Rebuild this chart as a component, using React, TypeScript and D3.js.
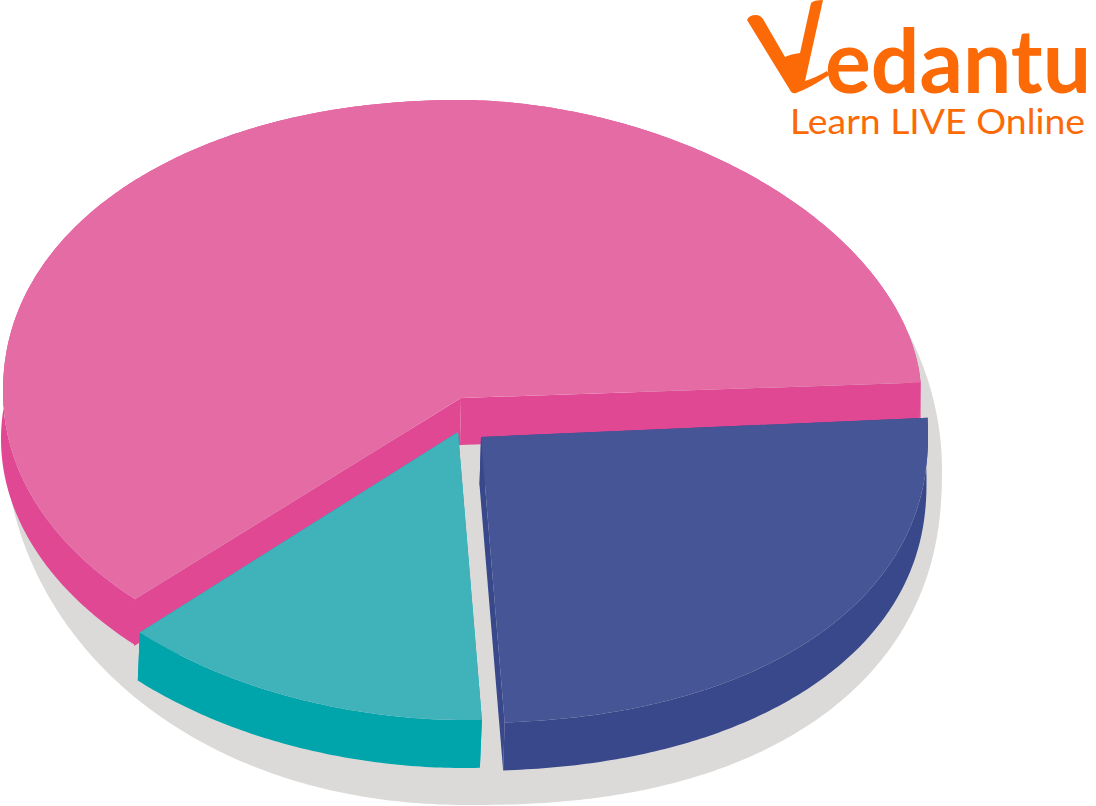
import React from "react";
import * as d3 from "d3";

// Data
const sliceNames = ["Blue", "Teal", "Pink"];
const sliceShares = [24.6, 13.6, 61.8];
const logoWord = "edantu";
const logoTagline = "Learn LIVE Online";

// Styling and layout
const W = 1096;
const H = 806;
const deg = Math.PI / 180;
const START_ANGLE = 87.6 * deg;
const ORANGE = "#fb6a07";
const SHADOW = "#dbdad9";

type Q = { cx: number; cy: number; rx: number; ry: number; p: number };
// Hand-drawn outline: one superellipse per quadrant, in the order UR, LR, LL, UL.
const q = (cx: number, cy: number, rx: number, ry: number, p: number): Q => ({ cx, cy, rx, ry, p });

const looks: Record<string, any> = {
  Pink: {
    top: "#e56ba5",
    wall: "#e04894",
    apex: [461, 398],
    rim: [q(462, 392, 459, 292, 1.85), q(462, 392, 459, 292, 2), q(462, 392, 459, 292, 2.03), q(462, 392, 459, 292, 2.1)],
    wallRim: [q(461, 439, 460, 292, 2), q(461, 439, 460, 292, 2), q(461, 439, 460, 292, 2), q(461, 439, 460, 292, 2)],
    depth: 47,
    dx: -1,
    trim: 0,
  },
  Blue: {
    top: "#465596",
    wall: "#39488b",
    apex: [481, 437],
    rim: [q(465, 434, 463, 289, 2.2), q(465, 434, 463, 289, 2.2), q(465, 434, 463, 289, 2.2), q(465, 434, 463, 289, 2.2)],
    depth: 48,
    dx: -1.5,
    trim: 0,
  },
  Teal: {
    top: "#40b2ba",
    wall: "#00a5ac",
    apex: [458, 432],
    rim: [q(465, 429, 463, 291, 2), q(465, 429, 463, 291, 2), q(465, 429, 463, 291, 1.95), q(465, 429, 463, 291, 1.95)],
    depth: 48,
    dx: -2,
    trim: 1.75 * deg,
  },
};

const shadowRim: Q[] = [q(470, 470, 472, 370, 2), q(470, 470, 472, 335, 2.3), q(470, 420, 467, 385, 2.1), q(470, 420, 467, 300, 2)];
const SHADOW_FROM = 68 * deg;
const SHADOW_TO = 270 * deg;

function rimPoint(quads: Q[], a: number): [number, number] {
  const t = ((a % (2 * Math.PI)) + 2 * Math.PI) % (2 * Math.PI);
  const i = Math.min(3, Math.floor(t / (Math.PI / 2)));
  const { cx, cy, rx, ry, p } = quads[i];
  const s = Math.sin(t);
  const c = Math.cos(t);
  return [cx + rx * Math.sign(s) * Math.abs(s) ** (2 / p), cy - ry * Math.sign(c) * Math.abs(c) ** (2 / p)];
}

const sample = (quads: Q[], a0: number, a1: number) => {
  const n = Math.max(8, Math.round((a1 - a0) * 90));
  return d3.range(n + 1).map((i) => rimPoint(quads, a0 + ((a1 - a0) * i) / n));
};

const pie = d3
  .pie<number>()
  .sort(null)
  .startAngle(START_ANGLE)
  .endAngle(START_ANGLE + Math.PI * 2);

const line = d3.line<[number, number]>();

function slicePaths(name: string, a0: number, a1: number) {
  const l = looks[name];
  const start = a0 + l.trim;
  const rim = sample(l.rim, start, a1);
  const last = rim[rim.length - 1];
  const down = (p: [number, number]) => [p[0] + l.dx, p[1] + l.depth] as [number, number];
  const lower = l.wallRim ? sample(l.wallRim, start, a1) : rim.map(down);
  return {
    top: line([l.apex, ...rim]) + "Z",
    outer: line([...rim, ...lower.slice().reverse()]) + "Z",
    cutA: line([l.apex, rim[0], down(rim[0]), down(l.apex)]) + "Z",
    cutB: line([l.apex, last, down(last), down(l.apex)]) + "Z",
  };
}

export default function App() {
  const arcs = pie(sliceShares);
  const slices = sliceNames.map((name, i) => ({
    name,
    ...slicePaths(name, arcs[i].startAngle, arcs[i].endAngle),
  }));
  const order = ["Pink", "Blue", "Teal"];
  const shadow = line([[470, 430], ...sample(shadowRim, SHADOW_FROM, SHADOW_TO)]) + "Z";

  return (
    <svg
      width={W}
      height={H}
      viewBox={`0 0 ${W} ${H}`}
      style={{ position: "absolute", left: 0, top: 0, display: "block", background: "#fff" }}
    >
      <path d={shadow} fill={SHADOW} />
      {order.map((name) => {
        const s = slices.find((d) => d.name === name)!;
        const l = looks[name];
        return (
          <g key={name}>
            <path d={s.outer} fill={l.wall} />
            <path d={s.cutA} fill={l.wall} />
            <path d={s.cutB} fill={l.wall} />
            <path d={s.top} fill={l.top} />
          </g>
        );
      })}
      <g fill={ORANGE}>
        <path d="M747 20 Q749 15 756 15 Q760 15 763 19 L785 57 Q791 54 800 53 L811 3 Q814 0 823 0 L805 81 Q815 78 827 71 L829 75 Q812 87 796 93 Q792 94 790 90 Z" />
        <text x={825} y={93} fontFamily="Lato" fontWeight={700} fontSize={88} textLength={266} lengthAdjust="spacingAndGlyphs">
          {logoWord}
        </text>
        <text x={790} y={134} fontFamily="Lato" fontSize={35} textLength={295} lengthAdjust="spacingAndGlyphs">
          {logoTagline}
        </text>
      </g>
    </svg>
  );
}
